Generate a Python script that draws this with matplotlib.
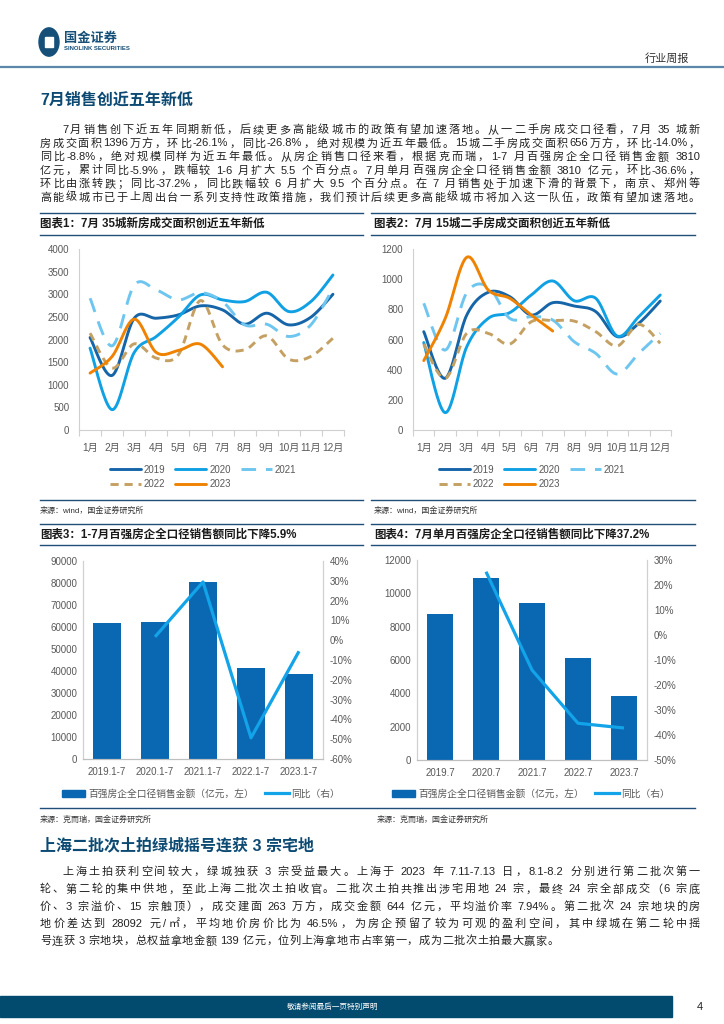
import re
import numpy as np
import matplotlib
matplotlib.use("Agg")
import matplotlib.pyplot as plt
from matplotlib.patches import Circle, Rectangle, Patch
from matplotlib.lines import Line2D

W, H = 724, 1024
CJK = ['Liberation Sans', 'Noto Sans CJK SC']
plt.rcParams['font.family'] = CJK

# ---------------- data ----------------
months = ['1月', '2月', '3月', '4月', '5月', '6月', '7月', '8月', '9月', '10月', '11月', '12月']
years = ['2019', '2020', '2021', '2022', '2023']

new_2019 = [2044, 1206, 2470, 2470, 2544, 2743, 2654, 2338, 2581, 2323, 2493, 3000]
new_2020 = [1809, 449, 1713, 2066, 2493, 2985, 2875, 2838, 3044, 2618, 2838, 3426]
new_2021 = [2912, 1860, 3200, 3096, 2875, 3037, 2838, 2324, 2338, 2066, 2324, 3132]
new_2022 = [2140, 1368, 1904, 1588, 1662, 2860, 1882, 1772, 2081, 1566, 1625, 2030]
new_2023 = [1257, 1625, 2449, 1713, 1757, 1897, 1396]

sec_2019 = [652, 343, 762, 913, 884, 762, 844, 822, 785, 619, 707, 855]
sec_2020 = [580, 115, 552, 740, 778, 895, 988, 857, 873, 623, 751, 895]
sec_2021 = [840, 530, 910, 950, 740, 751, 729, 585, 508, 371, 508, 641]
sec_2022 = [570, 343, 641, 641, 570, 718, 725, 722, 652, 557, 700, 575]
sec_2023 = [460, 740, 1145, 928, 873, 762, 656]

cum_periods = ['2019.1-7', '2020.1-7', '2021.1-7', '2022.1-7', '2023.1-7']
cum_sales = [61800, 62300, 80300, 41200, 38800]
cum_yoy = [None, 1.7, 29.4, -49.3, -5.6]

jul_periods = ['2019.7', '2020.7', '2021.7', '2022.7', '2023.7']
jul_sales = [8760, 10900, 9420, 6100, 3840]
jul_yoy = [None, 25.3, -14.0, -35.3, -37.2]

# ---------------- helpers ----------------
fig = plt.figure(figsize=(W / 100, H / 100), dpi=100)
fig.patch.set_facecolor('white')
renderer = fig.canvas.get_renderer()


def fx(x):
    return x / W


def fy(y):
    return 1 - y / H


def ftext(x, y, s, **kw):
    kw.setdefault('va', 'center')
    return fig.text(fx(x), fy(y), s, **kw)


def hline(x0, x1, y, color='#1f4e79', lw=1.0):
    fig.add_artist(Line2D([fx(x0), fx(x1)], [fy(y), fy(y)], color=color, lw=lw,
                          transform=fig.transFigure))


def add_axes_px(l, t, r, b):
    return fig.add_axes([fx(l), fy(b), (r - l) / W, (b - t) / H])


TOKEN = re.compile(r'[A-Za-z0-9.%\-/+]+| |.')


def para_line(text, x0, x1, y, size=8.0, justify=True, color='#222222'):
    toks = TOKEN.findall(text)
    arts, widths = [], []
    for tk in toks:
        if tk == ' ':
            arts.append(None)
            widths.append(2.5)
            continue
        t = ftext(x0, y, tk, fontsize=size, color=color, ha='left', family=CJK)
        arts.append(t)
        widths.append(t.get_window_extent(renderer).width)
    n = len(toks)
    gap = 0.6
    if justify and n > 1:
        gap = (x1 - x0 - sum(widths)) / (n - 1)
    x = x0
    for a, w in zip(arts, widths):
        if a is not None:
            a.set_x(fx(x))
        x += w + gap


def smooth(xs, ys, n=24):
    p = np.column_stack([xs, ys]).astype(float)
    out = []
    for i in range(len(p) - 1):
        p0 = p[i - 1] if i > 0 else p[i]
        p1, p2 = p[i], p[i + 1]
        p3 = p[i + 2] if i + 2 < len(p) else p[i + 1]
        c1 = p1 + (p2 - p0) / 6
        c2 = p2 - (p3 - p1) / 6
        t = np.linspace(0, 1, n)[:, None]
        seg = (1 - t) ** 3 * p1 + 3 * (1 - t) ** 2 * t * c1 + 3 * (1 - t) * t ** 2 * c2 + t ** 3 * p2
        out.append(seg if i == 0 else seg[1:])
    s = np.vstack(out)
    return s[:, 0], s[:, 1]


NAVY = '#0d4a73'
GREY_TXT = '#595959'
AX_GREY = '#d0d0d0'

# ---------------- header ----------------
fig.add_artist(Circle((fx(49), fy(42)), 10 / W, transform=fig.transFigure, color='#164f78'))
fig.add_artist(Rectangle((fx(45), fy(47)), 8 / W, 10 / H, transform=fig.transFigure, color='white'))
ftext(64, 38, '国金证券', fontsize=9.5, color='#164f78', weight='bold', ha='left', family=['Noto Sans CJK SC'])
ftext(64, 49, 'SINOLINK SECURITIES', fontsize=4.3, color='#164f78', weight='bold', ha='left')
ftext(689, 59, '行业周报', fontsize=8, color='#333333', ha='right', family=['Noto Sans CJK SC'])
hline(0, W, 67, color='#5b87aa', lw=1.6)

# ---------------- section 1 ----------------
ftext(40, 100, '7月销售创近五年新低', fontsize=11.5, color=NAVY, weight='bold', ha='left',
      family=['Liberation Sans', 'Noto Sans CJK SC'])

p1 = [
    '7月销售创下近五年同期新低，后续更多高能级城市的政策有望加速落地。从一二手房成交口径看，7月 35 城新',
    '房成交面积1396万方，环比-26.1%，同比-26.8%，绝对规模为近五年最低。15城二手房成交面积656万方，环比-14.0%，',
    '同比-8.8%，绝对规模同样为近五年最低。从房企销售口径来看，根据克而瑞，1-7 月百强房企全口径销售金额 3810',
    '亿元，累计同比-5.9%，跌幅较 1-6 月扩大 5.5 个百分点。7月单月百强房企全口径销售金额 3810 亿元，环比-36.6%，',
    '环比由涨转跌；同比-37.2%，同比跌幅较 6 月扩大 9.5 个百分点。在 7 月销售处于加速下滑的背景下，南京、郑州等',
    '高能级城市已于上周出台一系列支持性政策措施，我们预计后续更多高能级城市将加入这一队伍，政策有望加速落地。',
]
for i, line in enumerate(p1):
    para_line(line, 62 if i == 0 else 40, 700, 130 + i * 13.5)

# chart titles row 1
hline(40, 363, 213)
hline(371, 695, 213)
ftext(40, 224, '图表1：7月 35城新房成交面积创近五年新低', fontsize=8.3, weight='bold', color='#1a1a1a', ha='left')
ftext(374, 224, '图表2：7月 15城二手房成交面积创近五年新低', fontsize=8.3, weight='bold', color='#1a1a1a', ha='left')
hline(40, 363, 235)
hline(371, 695, 235)

series_styles = [
    dict(color='#1565a8', ls='-'),
    dict(color='#10a0e4', ls='-'),
    dict(color='#6ec6f0', ls=(0, (5.0, 3.4))),
    dict(color='#c4a062', ls=(0, (2.8, 2.0))),
    dict(color='#ef8200', ls='-'),
]


def line_chart(ax, data, ymax, ystep):
    handles = []
    for name, vals, st in zip(years, data, series_styles):
        xs = np.arange(len(vals))
        sx, sy = smooth(xs, vals)
        h, = ax.plot(sx, sy, color=st['color'], ls=st['ls'], lw=2.1, solid_capstyle='round',
                     dash_capstyle='butt', label=name)
        handles.append(h)
    ax.set_xlim(-0.5, 11.5)
    ax.set_ylim(0, ymax)
    ax.set_yticks(np.arange(0, ymax + 1, ystep))
    ax.set_xticks(np.arange(12))
    ax.set_xticklabels(months)
    ax.set_xticks(np.arange(-0.5, 12, 1), minor=True)
    ax.tick_params(axis='x', which='major', length=0, pad=9, labelsize=7.3, labelcolor=GREY_TXT)
    ax.tick_params(axis='x', which='minor', length=4, color=AX_GREY, width=0.8)
    ax.tick_params(axis='y', length=0, pad=7, labelsize=7.0, labelcolor=GREY_TXT)
    for s in ['top', 'right']:
        ax.spines[s].set_visible(False)
    for s in ['left', 'bottom']:
        ax.spines[s].set_color(AX_GREY)
        ax.spines[s].set_linewidth(0.8)
    ax.set_facecolor('none')
    return handles


ax1 = add_axes_px(79, 249, 344, 430)
h1 = line_chart(ax1, [new_2019, new_2020, new_2021, new_2022, new_2023], 4000, 500)
ax2 = add_axes_px(413, 249, 671, 430)
h2 = line_chart(ax2, [sec_2019, sec_2020, sec_2021, sec_2022, sec_2023], 1200, 200)

for hs, cx in [(h1, 203), (h2, 532)]:
    order = [0, 3, 1, 4, 2]
    leg = fig.legend([hs[i] for i in order], [years[i] for i in order], ncol=3,
                     loc='center', bbox_to_anchor=(fx(cx), fy(477)), frameon=False,
                     fontsize=7.0, handlelength=3.2, columnspacing=1.0, handletextpad=0.3,
                     labelspacing=0.45, labelcolor=GREY_TXT)

hline(40, 363, 500)
hline(371, 695, 500)
ftext(40, 511, '来源：wind，国金证券研究所', fontsize=5.8, color='#333333', ha='left')
ftext(374, 511, '来源：wind，国金证券研究所', fontsize=5.8, color='#333333', ha='left')

# chart titles row 2
hline(40, 363, 524)
hline(371, 695, 524)
ftext(40, 535, '图表3：1-7月百强房企全口径销售额同比下降5.9%', fontsize=8.3, weight='bold', color='#1a1a1a', ha='left')
ftext(374, 535, '图表4：7月单月百强房企全口径销售额同比下降37.2%', fontsize=8.3, weight='bold', color='#1a1a1a', ha='left')
hline(40, 363, 545)
hline(371, 695, 545)

BAR = '#0a67b2'
LINE = '#12a3e8'


def bar_chart(ax, cats, vals, yoy, ymax, ystep, rlo, rhi, rstep):
    x = np.arange(len(cats))
    ax.bar(x, vals, width=0.57, color=BAR, zorder=2)
    ax.set_xlim(-0.5, len(cats) - 0.5)
    ax.set_ylim(0, ymax)
    ax.set_yticks(np.arange(0, ymax + 1, ystep))
    ax.set_xticks(x)
    ax.set_xticklabels(cats)
    ax.tick_params(axis='x', length=0, pad=6, labelsize=7.0, labelcolor=GREY_TXT)
    ax.tick_params(axis='y', length=0, pad=4, labelsize=7.0, labelcolor=GREY_TXT)
    ax2 = ax.twinx()
    xi = [i for i, v in enumerate(yoy) if v is not None]
    ax2.plot(xi, [yoy[i] for i in xi], color=LINE, lw=2.3, solid_capstyle='butt', zorder=3)
    ax2.set_ylim(rlo, rhi)
    ax2.set_yticks(np.arange(rlo, rhi + 1, rstep))
    ax2.set_yticklabels([f'{int(v)}%' for v in np.arange(rlo, rhi + 1, rstep)])
    ax2.tick_params(axis='y', length=0, pad=5, labelsize=7.0, labelcolor=GREY_TXT)
    for a in (ax, ax2):
        a.spines['top'].set_visible(False)
        for s in ['left', 'right']:
            a.spines[s].set_color(AX_GREY)
            a.spines[s].set_linewidth(0.8)
        a.spines['bottom'].set_color('#bfbfbf')
        a.spines['bottom'].set_linewidth(0.8)
    return ax2


ax3 = add_axes_px(83, 561, 323, 759)
bar_chart(ax3, cum_periods, cum_sales, cum_yoy, 90000, 10000, -60, 40, 10)
ax4 = add_axes_px(417, 560, 647, 760)
bar_chart(ax4, jul_periods, jul_sales, jul_yoy, 12000, 2000, -50, 30, 10)

bar_h = Patch(color=BAR)
line_h = Line2D([], [], color=LINE, lw=2.3)
for cx in [201, 531]:
    fig.legend([bar_h, line_h], ['百强房企全口径销售金额（亿元，左）', '同比（右）'], ncol=2,
               loc='center', bbox_to_anchor=(fx(cx), fy(794)), frameon=False, fontsize=7.0,
               handlelength=2.4, handleheight=0.8, handletextpad=0.3, columnspacing=1.2,
               labelcolor=GREY_TXT)

hline(40, 695, 808)
ftext(40, 820, '来源：克而瑞，国金证券研究所', fontsize=5.8, color='#333333', ha='left')
ftext(377, 820, '来源：克而瑞，国金证券研究所', fontsize=5.8, color='#333333', ha='left')

# ---------------- section 2 ----------------
ftext(40, 846, '上海二批次土拍绿城摇号连获 3 宗宅地', fontsize=11.5, color=NAVY, weight='bold', ha='left',
      family=['Liberation Sans', 'Noto Sans CJK SC'])
p2 = [
    '上海土拍获利空间较大，绿城独获 3 宗受益最大。上海于 2023 年 7.11-7.13 日，8.1-8.2 分别进行第二批次第一',
    '轮、第二轮的集中供地，至此上海二批次土拍收官。二批次土拍共推出涉宅用地 24 宗，最终 24 宗全部成交（6 宗底',
    '价、3 宗溢价、15 宗触顶），成交建面 263 万方，成交金额 644 亿元，平均溢价率 7.94%。第二批次 24 宗地块的房',
    '地价差达到 28092 元/㎡，平均地价房价比为 46.5%，为房企预留了较为可观的盈利空间，其中绿城在第二轮中摇',
    '号连获 3 宗地块，总权益拿地金额 139 亿元，位列上海拿地市占率第一，成为二批次土拍最大赢家。',
]
for i, line in enumerate(p2):
    para_line(line, 62 if i == 0 else 40, 700, 872 + i * 17.3, justify=(i < len(p2) - 1))

# ---------------- footer ----------------
fig.add_artist(Rectangle((0, fy(1017)), fx(672), 21 / H, transform=fig.transFigure, color='#034a6f'))
ftext(333, 1007, '敬请参阅最后一页特别声明', fontsize=5.5, color='white', ha='center', family=['Noto Sans CJK SC'])
ftext(700, 1007, '4', fontsize=8, color='#222222', ha='center')

fig.savefig('out.png', dpi=100, facecolor='white')
